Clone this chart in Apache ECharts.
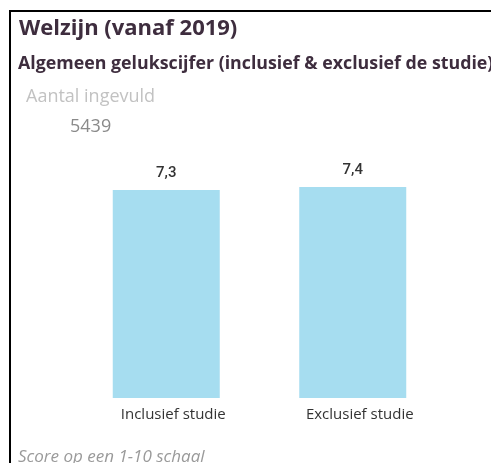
<!DOCTYPE html>
<html>
<head>
<meta charset="utf-8">
<script src="https://cdn.jsdelivr.net/npm/echarts@6/dist/echarts.min.js"></script>
<style>
  html, body { margin: 0; padding: 0; background: #fff; }
  #main { width: 491px; height: 463px; }
</style>
</head>
<body>
<div id="main"></div>
<script>
// gegevens uit de grafiek
const categories = ["Inclusief studie", "Exclusief studie"];
const scores = [7.3, 7.4];
const aantalIngevuld = 5439;

const chart = echarts.init(document.getElementById("main"));

const option = {
    backgroundColor: "#ffffff",
    animation: false,
    grid: {
        left: 73,
        right: 45,
        top: 113,
        bottom: 65,
    },
    xAxis: {
        type: "category",
        data: categories,
        axisLine: { show: false },
        axisTick: { show: false },
        axisLabel: {
            color: "#333333",
            fontFamily: "Open Sans",
            fontSize: 15,
            margin: 9,
            padding: [0, 0, 0, 14], // labels staan iets rechts van het midden
        },
    },
    yAxis: {
        type: "value",
        min: 0,
        max: 10,
        show: false,
    },
    series: [
        {
            type: "bar",
            data: scores,
            barWidth: 107,
            itemStyle: { color: "#a6ddf0" },
            label: {
                show: true,
                position: "top",
                distance: 9,
                color: "#333333",
                fontFamily: "Roboto",
                fontWeight: 500,
                fontSize: 15,
                formatter: (p) => String(p.value).replace(".", ","),
            },
        },
    ],
    graphic: [
        // kader links en boven
        {
            type: "polyline",
            shape: { points: [[10, 463], [10, 11], [491, 11]] },
            style: { stroke: "#000", lineWidth: 2, fill: null },
        },
        {
            type: "text",
            left: 19,
            top: 18,
            style: {
                text: "Welzijn (vanaf 2019)",
                fill: "#3e2d3e",
                font: "bold 22px 'Open Sans'",
            },
        },
        {
            type: "text",
            left: 18,
            top: 55,
            style: {
                text: "Algemeen gelukscijfer (inclusief & exclusief de studie)",
                fill: "#3e2d3e",
                font: "bold 17.8px 'Open Sans'",
            },
        },
        {
            type: "text",
            left: 26,
            top: 88,
            style: {
                text: "Aantal ingevuld",
                fill: "#c2c2c2",
                font: "18px 'Open Sans'",
            },
        },
        {
            type: "text",
            left: 70,
            top: 118,
            style: {
                text: String(aantalIngevuld),
                fill: "#8a8a8a",
                font: "18px 'Open Sans'",
            },
        },
        {
            type: "text",
            left: 18,
            top: 449,
            style: {
                text: "Score op een 1-10 schaal",
                fill: "#9a9a9a",
                font: "italic 17px 'Open Sans'",
            },
        },
    ],
};

chart.setOption(option);
</script>
</body>
</html>
